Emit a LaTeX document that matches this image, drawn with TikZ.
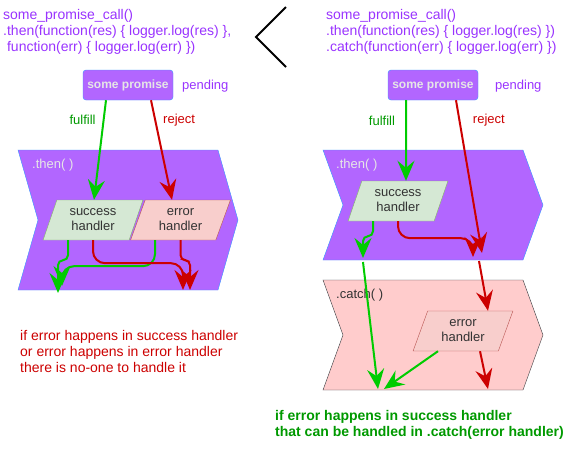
\documentclass[tikz,border=0pt]{standalone}
\usepackage{fontspec}
\setmainfont{Liberation Sans}
\usetikzlibrary{arrows.meta}
\usetikzlibrary{shapes.geometric}

\definecolor{codepurple}{HTML}{9933FF}
\definecolor{promfill}{HTML}{B266FF}
\definecolor{promdraw}{HTML}{3399FF}
\definecolor{okgreen}{HTML}{00CC00}
\definecolor{oktext}{HTML}{009900}
\definecolor{errred}{HTML}{CC0000}
\definecolor{succfill}{HTML}{D5E8D4}
\definecolor{succdraw}{HTML}{82B366}
\definecolor{errfill}{HTML}{F8CECC}
\definecolor{errdraw}{HTML}{B85450}
\definecolor{catchfill}{HTML}{FFCCCC}
\definecolor{catchdraw}{HTML}{36393D}
\definecolor{darktext}{HTML}{333333}
\definecolor{lighttext}{HTML}{E6E6E6}

\tikzset{
	codetext/.style={anchor=north west, inner sep=0pt, align=left,
		text=codepurple, font=\fontsize{14}{16}\selectfont},
	promise/.style={draw=promdraw, fill=promfill, rounded corners=3pt,
		minimum width=90pt, minimum height=30pt, inner sep=0pt,
		text=lighttext, font=\fontsize{12}{14}\selectfont\bfseries},
	handler/.style={trapezium, trapezium left angle=68, trapezium right angle=112,
		trapezium stretches=true, minimum width=100pt, minimum height=40pt,
		inner sep=0pt, align=center, text=darktext,
		font=\fontsize{13}{15}\selectfont},
	small/.style={inner sep=0pt, font=\fontsize{13}{15}\selectfont},
	okline/.style={draw=okgreen, line width=2pt,
		arrows={-Stealth[length=20pt,width=17pt,inset=7pt]}},
	errline/.style={draw=errred, line width=2pt,
		arrows={-Stealth[length=20pt,width=17pt,inset=7pt]}}
}

\begin{document}
\begin{tikzpicture}[x=1pt,y=-1pt]
		\useasboundingbox (0,0) rectangle (584,451);
		%% The code on both sides
		\node[codetext] (codeL) at (3,9.5)
			{some\_promise\_call()\\.then(function(res) \{ logger.log(res) \},\\\ function(err) \{ logger.log(err) \})};
		\node[codetext] (codeR) at (326,9.5)
			{some\_promise\_call()\\.then(function(res) \{ logger.log(res) \})\\.catch(function(err) \{ logger.log(err) \})};
		%% The "<" between them
		\draw[line width=2pt] (286,7) -- (256,37) -- (286,67);
		%% The step shapes
		\draw[draw=promdraw, fill=promfill] (18,150) -- (218,150) -- (238,220) -- (218,290)
			-- (18,290) -- (38,220) -- cycle;
		\draw[draw=promdraw, fill=promfill] (323,150) -- (523,150) -- (543,205) -- (523,260)
			-- (323,260) -- (343,205) -- cycle;
		\draw[draw=catchdraw, fill=catchfill] (323,280) -- (523,280) -- (543,335) -- (523,390)
			-- (323,390) -- (343,335) -- cycle;
		\node[small, anchor=west, text=lighttext] (thenL) at (32,165) {.then( )};
		\node[small, anchor=west, text=lighttext] (thenR) at (336,165) {.then( )};
		\node[small, anchor=west, text=darktext] (catchR) at (336,295) {.catch( )};
		%% Promises
		\node[promise] (promL) at (128,85) {some promise};
		\node[promise] (promR) at (433,85) {some promise};
		\node[small, anchor=west, text=codepurple] (pendL) at (182,86) {pending};
		\node[small, anchor=west, text=codepurple] (pendR) at (495,86) {pending};
		%% Handlers
		\node[handler, fill=succfill, draw=succdraw] (succL) at (93,220) {success\\handler};
		\node[handler, fill=errfill, draw=errdraw] (errL) at (180.5,220) {error\\handler};
		\node[handler, fill=succfill, draw=succdraw] (succR) at (398,201) {success\\handler};
		\node[handler, fill=errfill, draw=errdraw] (errR) at (463,331) {error\\handler};
		%% Invisibly defining the loose ends
		\path
			(58,293)  coordinate (okL1)
			(62,286)  coordinate (okL2)
			(183,290) coordinate (errL1)
			(190,290) coordinate (errL2)
			(482,253) coordinate (rejR1)
			(479,261) coordinate (rejR2)
			(363,258) coordinate (okR1)
			(363,262) coordinate (okR2)
			(378,389) coordinate (okR3)
			(473,257) coordinate (errR1)
			(384,389) coordinate (okR4)
			(488,389) coordinate (errR2);
		%% Left side
		\draw[okline] ([xshift=-22pt]promL.south) -- ([xshift=1pt]succL.north)
			node[pos=0.2, small, left=7pt, text=oktext] {fulfill};
		\draw[errline] ([xshift=23pt]promL.south) -- ([xshift=-8.5pt]errL.north)
			node[pos=0.2, small, right=7pt, text=errred] {reject};
		\draw[okline, rounded corners=5pt] ([xshift=-25pt]succL.south) -- ++(0,20) -- ++(-10,0) -- (okL1);
		\draw[okline, rounded corners=12pt] ([xshift=-25.5pt]errL.south) -- ++(0,26) -| (okL2);
		\draw[errline, rounded corners=12pt] (succL.south) -- ++(0,23) -| (errL1);
		\draw[errline, rounded corners=5pt] (errL.south) -- ++(0,20) -- ++(9.5,0) -- (errL2);
		%% Right side
		\draw[okline] ([xshift=-27pt]promR.south) -- ([xshift=8pt]succR.north)
			node[pos=0.25, small, left=10pt, text=oktext] {fulfill};
		\draw[errline] ([xshift=23pt]promR.south) -- (rejR1)
			node[pos=0.13, small, right=12.6pt, text=errred] {reject};
		\draw[errline] (rejR2) -- ([xshift=25pt]errR.north);
		\draw[okline, rounded corners=5pt] ([xshift=-25pt]succR.south) -- ++(0,15) -- ++(-10,0) -- (okR1);
		\draw[okline] (okR2) -- (okR3);
		\draw[errline, rounded corners=12pt] (succR.south) -- ++(0,17) -| (errR1);
		\draw[okline] ([xshift=-25pt]errR.south) -- (okR4);
		\draw[errline] ([xshift=17pt]errR.south) -- (errR2);
		%% Notes
		\node[codetext, text=errred] (noteL) at (20,330)
			{if error happens in success handler\\or error happens in error handler\\there is no-one to handle it};
		\node[codetext, text=oktext, font=\fontsize{14}{16}\selectfont\bfseries] (noteR) at (275,410)
			{if error happens in success handler\\that can be handled in .catch(error handler)};
\end{tikzpicture}
\end{document}
